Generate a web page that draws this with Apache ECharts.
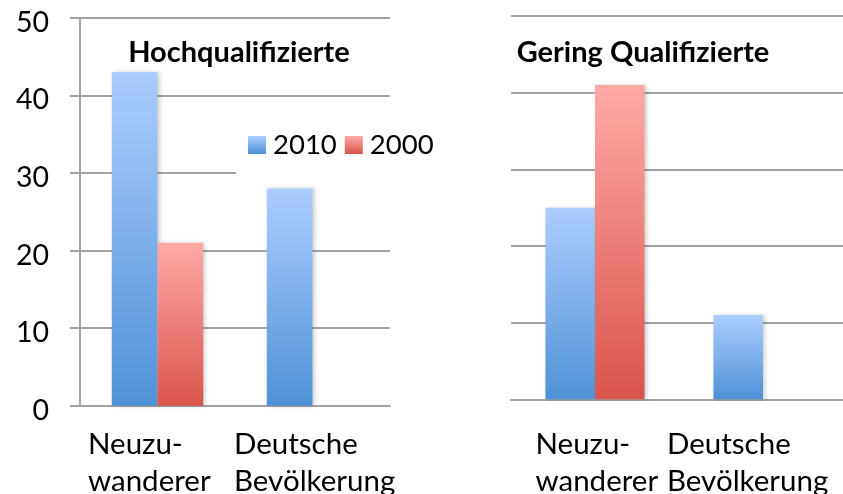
<!DOCTYPE html>
<html>
<head>
<meta charset="utf-8">
<script src="https://cdn.jsdelivr.net/npm/echarts@6/dist/echarts.min.js"></script>
<style>
  html, body { margin: 0; padding: 0; background: #fff; }
  #chart { width: 843px; height: 494px; }
</style>
</head>
<body>
<div id="chart"></div>
<script>
// Kategorien und Werte (Anteile in %)
const categories = ['Neuzu-\nwanderer', 'Deutsche\nBevölkerung']
const seriesNames = ['2010', '2000']
const hochqual2010 = [43, 28]
const hochqual2000 = [21, null]
const geringQual2010 = [25, 11]
const geringQual2000 = [41, null]
const yTicks = [0, 10, 20, 30, 40, 50]

const font = 'Lato, "Open Sans", sans-serif'
const gridColor = '#a3a3a3'

const blueGrad = new echarts.graphic.LinearGradient(0, 0, 0, 1, [
  { offset: 0, color: '#abcdff' },
  { offset: 1, color: '#4f92d7' }
])
const redGrad = new echarts.graphic.LinearGradient(0, 0, 0, 1, [
  { offset: 0, color: '#ffa9a6' },
  { offset: 1, color: '#d9554a' }
])

// Zeilen linksbündig in einem zentrierten Block
function makeFormatter(keys) {
  return function (value, index) {
    const key = keys[index]
    return value.split('\n').map(l => `{${key}|${l}}`).join('\n')
  }
}

function richStyle(w) {
  return { width: w, align: 'left', fontFamily: font, fontSize: 29.5, lineHeight: 37, color: '#000' }
}

function barSeries(name, data, idx, color) {
  return {
    name: name,
    type: 'bar',
    xAxisIndex: idx,
    yAxisIndex: idx,
    data: data,
    barGap: '0%',
    barCategoryGap: '41%',
    itemStyle: {
      color: color,
      shadowColor: 'rgba(0,0,0,0.18)',
      shadowBlur: 4,
      shadowOffsetX: 2
    }
  }
}

function xAxis(gridIndex, keys, margin) {
  return {
    gridIndex: gridIndex,
    type: 'category',
    data: categories,
    axisLine: { lineStyle: { color: gridColor, width: 2 } },
    axisTick: { show: false },
    axisLabel: {
      interval: 0,
      hideOverlap: false,
      formatter: makeFormatter(keys),
      margin: margin,
      rich: {
        a: richStyle(139),
        b: richStyle(157),
        c: richStyle(119),
        d: richStyle(192)
      }
    }
  }
}

const chart = echarts.init(document.getElementById('chart'))

chart.setOption({
  animation: false,
  title: [
    { text: 'Hochqualifizierte', left: 234, top: 33, textAlign: 'center',
      textStyle: { fontFamily: font, fontSize: 29, fontWeight: 'bold', color: '#000' } },
    { text: 'Gering Qualifizierte', left: 638, top: 33, textAlign: 'center',
      textStyle: { fontFamily: font, fontSize: 29, fontWeight: 'bold', color: '#000' } }
  ],
  legend: {
    data: seriesNames,
    left: 236,
    top: 117,
    padding: [14, 12, 18, 12],
    backgroundColor: '#fff',
    icon: 'rect',
    itemWidth: 18,
    itemHeight: 18,
    itemGap: 8,
    textStyle: { fontFamily: font, fontSize: 27.5, color: '#000', padding: [0, 0, 0, 2] },
    selectedMode: false
  },
  grid: [
    { left: 80, right: 453, top: 17.7, bottom: 88.3, outerBoundsMode: 'none' },
    { left: 511, right: -4, top: 16, bottom: 94.7, outerBoundsMode: 'none' }
  ],
  xAxis: [
    xAxis(0, ['a', 'b'], 20),
    xAxis(1, ['c', 'd'], 26.4)
  ],
  yAxis: [
    {
      gridIndex: 0, type: 'value',
      min: yTicks[0], max: yTicks[yTicks.length - 1], interval: 10,
      axisLine: { show: true, lineStyle: { color: gridColor, width: 2 } },
      axisTick: { show: true, length: 10, lineStyle: { color: gridColor, width: 2 } },
      splitLine: { lineStyle: { color: gridColor, width: 2 } },
      axisLabel: {
        margin: 31,
        formatter: v => `{v|${v}}`,
        rich: {
          v: { color: '#000', fontFamily: font, fontSize: 28.5, padding: [10, 0, 0, 0] }
        }
      }
    },
    {
      gridIndex: 1, type: 'value',
      min: yTicks[0], max: yTicks[yTicks.length - 1], interval: 10,
      axisLine: { show: false },
      axisTick: { show: false },
      splitLine: { lineStyle: { color: gridColor, width: 2 } },
      axisLabel: { show: false }
    }
  ],
  series: [
    barSeries(seriesNames[0], hochqual2010, 0, blueGrad),
    barSeries(seriesNames[1], hochqual2000, 0, redGrad),
    barSeries(seriesNames[0], geringQual2010, 1, blueGrad),
    barSeries(seriesNames[1], geringQual2000, 1, redGrad)
  ]
})
</script>
</body>
</html>
